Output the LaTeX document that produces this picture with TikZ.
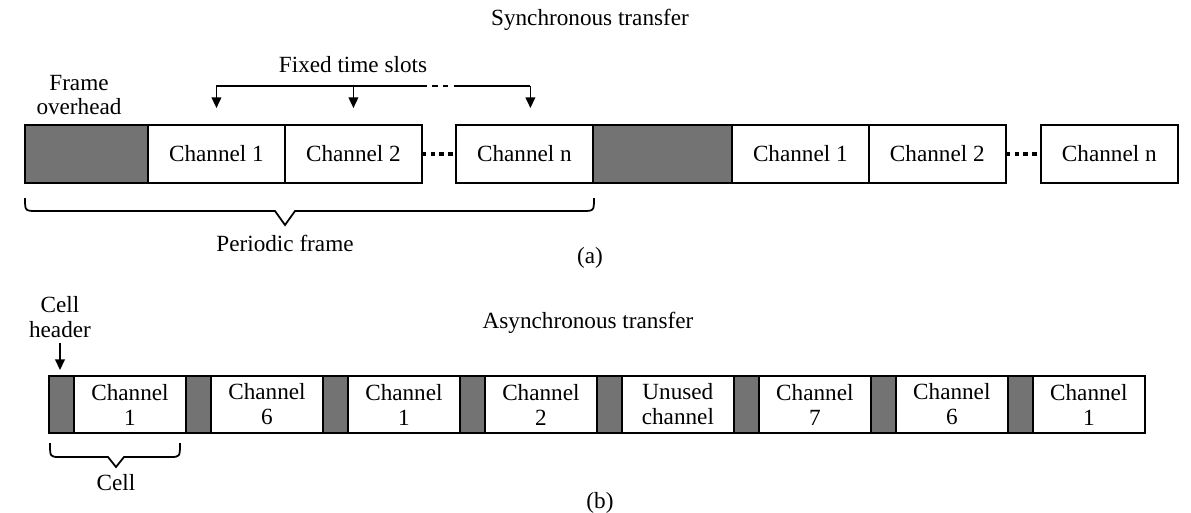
\documentclass[tikz,border=0pt]{standalone}
\usepackage{fontspec}
\setmainfont{Liberation Serif}
\usetikzlibrary{arrows.meta,calc,positioning}

\begin{document}
\begin{tikzpicture}[x=0.02cm,y=-0.02cm,>={Triangle[length=6pt,width=5.5pt]},node distance=0pt,
  every node/.style={font=\fontsize{13.2}{14.2}\selectfont,inner sep=1pt,outer sep=0pt,align=center},
  slot/.style={draw,line width=1pt,minimum width=2.74cm,minimum height=1.16cm},
  ovh/.style={draw,line width=1pt,fill=black!55,minimum height=1.16cm},
  cellbox/.style={draw,line width=1pt,minimum width=2.24cm,minimum height=1.14cm},
  hdr/.style={draw,line width=1pt,fill=black!55,minimum width=0.5cm,minimum height=1.14cm},
  gapdots/.style={line width=2.5pt,dash pattern=on 2.5pt off 2.5pt},
  brace/.style={line width=1pt}]
\useasboundingbox (0,0) rectangle (1191,512);

% (a) synchronous transfer
\node (st) at (590,20) {Synchronous transfer};
\node[ovh,minimum width=2.46cm,anchor=north west] (o1) at (25,125) {};
\node[slot,right=of o1] (a1) {Channel 1};
\node[slot,right=of a1] (a2) {Channel 2};
\node[slot,right=0.68cm of a2] (an) {Channel n};
\node[ovh,minimum width=2.78cm,right=of an] (o2) {};
\node[slot,right=of o2] (b1) {Channel 1};
\node[slot,right=of b1] (b2) {Channel 2};
\node[slot,right=0.7cm of b2] (bn) {Channel n};
\foreach \x/\y in {a2/an,b2/bn} \draw[gapdots] (\x) -- (\y);

\node (fo) at (79,95) {Frame\\overhead};
\node (fts) at (353,65) {Fixed time slots};
\coordinate (s1) at ($(a1.north)+(0,-39)$);
\coordinate (s2) at ($(a2.north)+(0,-39)$);
\coordinate (s3) at ($(an.north)+(6,-39)$);
\draw[line width=0.8pt] (s1) -- (a2.east |- s1);
\draw[line width=0.8pt,dashed] (a2.east |- s1) -- (an.west |- s1);
\draw[line width=0.8pt] (an.west |- s1) -- (s3);
\foreach \s/\t in {s1/a1,s2/a2,s3/an} \draw[->,line width=0.8pt,shorten >=0.34cm] (\s) -- (\s |- \t.north);

\draw[brace] (25,198) .. controls (25,211) .. (37,211) -- (275,211) -- (285,225) -- (295,211) -- (582,211) .. controls (594,211) .. (594,198);
\node (pf) at (285,243) {Periodic frame};
\node (la) at (590,258) {(a)};

% (b) asynchronous transfer
\node (at) at (588,323) {Asynchronous transfer};
\node[hdr,anchor=north west] (h1) at (49,376) {};
\node[cellbox,right=of h1] (c1) {Channel\\1};
\node[hdr,right=of c1] (h2) {};
\node[cellbox,right=of h2] (c2) {Channel\\6};
\node[hdr,right=of c2] (h3) {};
\node[cellbox,right=of h3] (c3) {Channel\\1};
\node[hdr,right=of c3] (h4) {};
\node[cellbox,right=of h4] (c4) {Channel\\2};
\node[hdr,right=of c4] (h5) {};
\node[cellbox,right=of h5] (c5) {Unused\\channel};
\node[hdr,right=of c5] (h6) {};
\node[cellbox,right=of h6] (c6) {Channel\\7};
\node[hdr,right=of c6] (h7) {};
\node[cellbox,right=of h7] (c7) {Channel\\6};
\node[hdr,right=of c7] (h8) {};
\node[cellbox,right=of h8] (c8) {Channel\\1};

\node (chd) at (60,317) {Cell\\header};
\draw[->,line width=0.8pt,shorten <=0.08cm,shorten >=0.12cm] (chd) -- (chd |- h1.north);

\draw[brace] (50,443) .. controls (50,457) .. (60,457) -- (108,457) -- (116,467) -- (124,457) -- (170,457) .. controls (180,457) .. (180,443);
\node (cl) at (116,483) {Cell};
\node (lb) at (600,503) {(b)};
\end{tikzpicture}
\end{document}
